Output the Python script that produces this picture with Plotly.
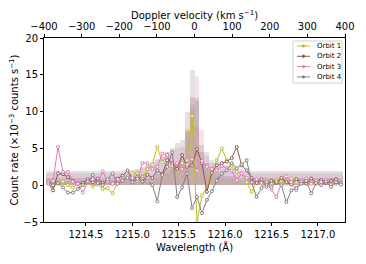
import numpy as np
import plotly.graph_objects as go

# wavelength grid (Angstrom)
lam0 = 1214.092
dlam = 0.0535
wavelength = [round(lam0 + dlam * i, 4) for i in range(60)]

orbit1 = [0.3, -0.2, 0.2, 0.5, 0.0, -0.3, 0.2, 0.0, 0.4, -0.2, 0.1, -0.5,
          -0.4, -1.1, 0.3, 0.8, 1.0, 1.6, 1.6, 0.9, 2.2, 2.8, 5.2, 3.1,
          4.2, 2.5, 2.0, 3.0, 3.4, 9.4, -5.0, -1.4, -0.3, 2.2, 3.4, 5.0,
          3.4, 2.7, 1.8, 1.6, 0.4, -0.9, 0.5, 0.2, 0.6, 0.3, 0.8, 0.5,
          0.2, 0.9, 0.4, 0.6, 0.3, 0.7, 0.2, 0.5, 0.3, 0.6, 0.2, 0.4]
orbit2 = [0.4, -0.7, 1.6, 1.5, 1.1, 0.6, 0.2, 0.3, 0.8, 0.4, 0.9, 0.3,
          0.6, 0.2, 0.9, 1.3, 2.0, 0.8, 1.2, 0.5, 1.4, 1.0, 2.0, 1.5,
          3.4, 3.0, 2.2, 4.1, 2.5, 2.7, 4.9, 3.0, -0.9, 1.7, 2.7, 3.0,
          3.2, 3.7, 5.2, 2.7, 2.0, 1.0, 0.3, 0.8, -0.2, 0.6, 0.3, 1.0,
          0.4, 0.1, 0.8, 0.5, 0.2, 0.9, 0.4, 0.7, 0.3, 0.6, 0.8, 0.2]
orbit3 = [0.2, 0.6, 5.2, 1.8, 1.8, 0.5, 0.2, -1.0, 0.4, 0.8, 0.3, 1.9,
          0.5, 0.2, 0.8, 0.6, 1.2, 1.0, 0.6, 3.0, 3.0, 2.2, 2.5, 4.3,
          4.1, 2.6, 3.0, 2.2, 2.8, 3.5, 2.0, 3.3, 2.5, 2.2, 2.0, 2.6,
          2.3, 2.0, 0.7, 1.6, 1.0, 0.5, 0.8, 0.3, 0.2, -0.6, -1.6, 0.2,
          1.2, 0.4, -0.7, 0.5, 0.9, 0.2, 0.6, 0.4, 0.8, 0.1, 0.5, 0.3]
orbit4 = [0.5, 0.0, 0.3, -0.3, -1.0, -1.0, -0.5, 0.0, 0.5, 1.4, 0.3, 0.0,
          0.8, 1.6, 0.2, 0.6, 1.0, 0.4, 0.9, 1.2, 0.5, 0.0, -2.2, 1.4,
          2.5, 4.5, -1.6, -0.3, 1.6, -3.1, -1.6, -3.8, -2.0, -0.8, 0.6, 1.6,
          2.0, 3.0, 2.3, 2.8, 3.4, 0.4, -1.6, -0.4, 0.4, -0.3, 0.5, 0.0,
          -2.3, -0.7, -0.4, 0.2, 0.6, -1.1, 0.3, 0.0, 0.5, -0.2, 0.4, 0.1]

# background / airglow model histograms per orbit
bars1 = [0.6]*22 + [1.0, 1.3, 1.6, 2.0, 2.6, 3.2, 7.7, 10.5, 8.0, 3.5, 2.2, 1.5,
                    1.2, 1.0, 0.9, 0.8, 0.7, 0.6] + [0.6]*20
bars2 = [1.0]*22 + [1.5, 1.8, 2.2, 2.6, 3.0, 3.8, 7.3, 12.0, 11.8, 4.5, 3.0, 2.2,
                    1.8, 1.5, 1.3, 1.2, 1.1, 1.0] + [1.0]*20
bars3 = [1.6]*17 + [1.8, 2.0, 2.3, 2.7, 3.0, 3.4, 3.8, 4.2, 4.6, 5.0, 5.2, 7.0,
                    11.0, 14.8, 7.5, 4.0, 3.0, 2.6, 2.3, 2.1, 1.9, 1.8, 1.7] + [1.6]*20
bars4 = [1.9]*17 + [2.0, 2.2, 2.5, 2.8, 3.2, 3.6, 4.0, 4.5, 5.0, 5.7, 6.2, 9.9,
                    15.6, 11.5, 5.5, 4.5, 3.4, 3.1, 2.9, 2.7, 2.5, 2.3, 2.2] + [1.9]*20

names = ["Orbit 1", "Orbit 2", "Orbit 3", "Orbit 4"]
colors = ["#bcbd22", "#8c564b", "#e377c2", "#7f7f7f"]
series = [orbit1, orbit2, orbit3, orbit4]
bars = [bars1, bars2, bars3, bars4]

lam_c = 1215.67
c_kms = 299792.458
vel_ticks = [-400, -300, -200, -100, 0, 100, 200, 300, 400]
xmin = lam_c * (1 - 400 / c_kms)
xmax = lam_c * (1 + 400 / c_kms)

fig = go.Figure()
for b, col in zip(bars, colors):
    fig.add_trace(go.Bar(x=wavelength, y=b, width=dlam, marker_color=col,
                         marker_line_width=0, opacity=0.22, showlegend=False,
                         hoverinfo="skip"))
for s, col, nm in zip(series, colors, names):
    fig.add_trace(go.Scatter(x=wavelength, y=s, mode="lines+markers", name=nm,
                             showlegend=False,
                             line=dict(color=col, width=1),
                             marker=dict(size=3, color="white",
                                         line=dict(color=col, width=1))))
# invisible trace to carry the top velocity axis
fig.add_trace(go.Scatter(x=[-400, 400], y=[0, 0], xaxis="x2", mode="lines",
                         line=dict(width=0), showlegend=False, hoverinfo="skip"))

# page body has an 8 px margin; layout positions below are screen pixels
OFF = 8
W, H = 366 - OFF, 264 - OFF
L, R, T, B = 44, 345, 38, 222
def px(x):
    return (x - L) / (R - L)
def py(y):
    return (B - y) / (B - T)

shapes = [dict(type="rect", xref="paper", yref="paper", x0=px(293), x1=px(342),
               y0=py(83), y1=py(41), line=dict(color="#d0d0d0", width=1),
               fillcolor="rgba(255,255,255,0.8)", layer="above")]
annotations = [dict(xref="paper", yref="paper", x=0.5, y=py(15),
                    text="Doppler velocity (km s<sup>−1</sup>)", showarrow=False,
                    xanchor="center", yanchor="middle",
                    font=dict(family="DejaVu Sans", size=10, color="black"))]
rows = [46, 56.3, 66.6, 76.9]
for nm, col, ry in zip(names, colors, rows):
    shapes.append(dict(type="line", xref="paper", yref="paper", x0=px(297), x1=px(310),
                       y0=py(ry), y1=py(ry), line=dict(color=col, width=1), layer="above"))
    shapes.append(dict(type="circle", xref="paper", yref="paper", x0=px(302.3), x1=px(304.7),
                       y0=py(ry + 1.2), y1=py(ry - 1.2), line=dict(color=col, width=0.8),
                       fillcolor=col, layer="above"))
    annotations.append(dict(xref="paper", yref="paper", x=px(315), y=py(ry), text=nm,
                            showarrow=False, xanchor="left", yanchor="middle",
                            font=dict(family="DejaVu Sans", size=7, color="black")))

font = dict(family="DejaVu Sans", size=10, color="black")
fig.update_layout(
    width=W, height=H,
    margin=dict(l=L - OFF, r=366 - R, t=T - OFF, b=264 - B, pad=0),
    paper_bgcolor="white", plot_bgcolor="white",
    barmode="overlay", bargap=0,
    font=font, showlegend=False,
    shapes=shapes, annotations=annotations,
    xaxis=dict(range=[xmin, xmax], tickvals=[1214.5, 1215.0, 1215.5, 1216.0, 1216.5, 1217.0],
               ticktext=["1214.5", "1215.0", "1215.5", "1216.0", "1216.5", "1217.0"],
               ticks="outside", ticklen=3, tickcolor="black", showline=True,
               linecolor="black", linewidth=1, mirror=True, showgrid=False,
               zeroline=False, automargin=False,
               title=dict(text="Wavelength (Å)", standoff=4, font=dict(size=10))),
    xaxis2=dict(range=[-400, 400], overlaying="x", side="top", anchor="y",
                tickvals=vel_ticks, ticks="outside", ticklen=3, tickcolor="black",
                showgrid=False, zeroline=False, showline=False, automargin=False),
    yaxis=dict(range=[-5, 20], tickvals=[-5, 0, 5, 10, 15, 20], ticks="outside",
               ticklen=3, tickcolor="black", showline=True, linecolor="black",
               linewidth=1, mirror=True, showgrid=False, zeroline=False,
               automargin=False,
               title=dict(text="Count rate (×10<sup>−3</sup> counts s<sup>−1</sup>)",
                          standoff=4, font=dict(size=10))),
)
fig.write_html("out.html")
